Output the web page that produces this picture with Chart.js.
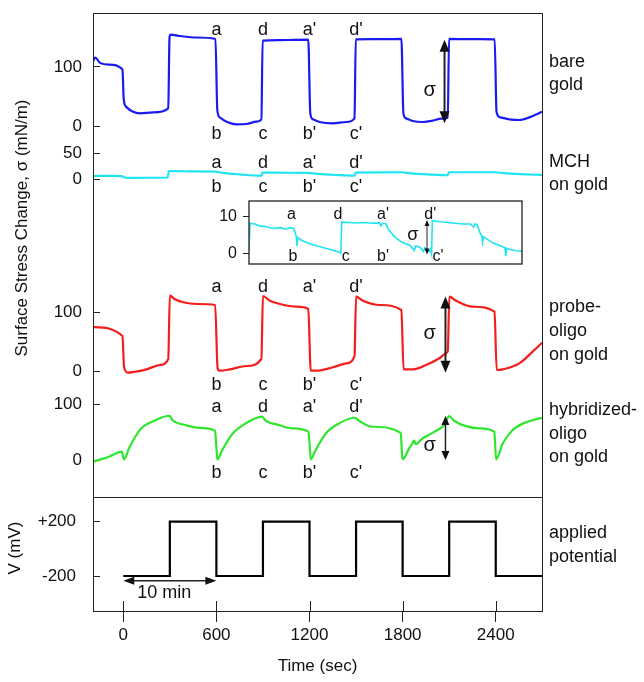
<!DOCTYPE html>
<html>
<head>
<meta charset="utf-8">
<script src="https://cdn.jsdelivr.net/npm/chart.js@4.4.1/dist/chart.umd.min.js"></script>
<style>
  html, body { margin: 0; padding: 0; background: #fff; }
  #wrap { position: relative; width: 644px; height: 682px; }
  #main { position: absolute; left: 0; top: 0; }
  #inset { position: absolute; left: 210px; top: 195px; }
</style>
</head>
<body>
<div id="wrap">
  <canvas id="main" width="644" height="682"></canvas>
  <canvas id="inset" width="320" height="75"></canvas>
</div>
<script>
// Surface stress traces vs time, with the applied potential underneath

const timeTicks = [0, 600, 1200, 1800, 2400];
const bareTicks = [0, 100];
const mchTicks = [0, 50];
const probeTicks = [0, 100];
const hybTicks = [0, 100];
const potTicks = [-200, 200];
const insetTicks = [0, 10];

// bare gold (blue)
const bareT = [-195, -180, -150, -90, -5, 3, 21, 64, 107, 193, 290, 298, 305, 365, 472, 594,
  606, 622, 665, 730, 794, 858, 890, 898, 1000, 1100, 1192, 1205, 1222, 1265, 1351, 1437, 1490,
  1498, 1600, 1700, 1792, 1805, 1822, 1865, 1930, 1994, 2048, 2091, 2099, 2200, 2300, 2393,
  2405, 2428, 2488, 2552, 2617, 2698];
const bareS = [110, 116, 107, 104, 96, 45, 32, 24, 21.5, 23, 30, 150, 155, 152.5, 150, 147.5,
  27, 14.7, 7.3, 2.9, 3.4, 7.3, 11.3, 144.6, 145.5, 146, 146.3, 21.5, 11.3, 6.8, 4.5, 6.8, 13,
  146.9, 147.2, 147.3, 147.5, 21.5, 13, 8.5, 6.8, 9, 12.4, 14, 147.5, 147.3, 147.1, 146.9,
  24, 14.7, 11.3, 10.2, 14.7, 24];

// MCH on gold (cyan)
const mchT = [-195, -100, -10, 10, 30, 150, 285, 295, 450, 595, 640, 750, 890, 898, 1050, 1195,
  1250, 1380, 1490, 1498, 1650, 1795, 1850, 2000, 2090, 2098, 2250, 2395, 2450, 2600, 2698];
const mchS = [6.4, 6.5, 6.2, 3.5, 2.8, 3, 3.5, 15.6, 15.4, 14.8, 12.5, 9.5, 7, 12.8, 12.6, 12.3,
  10.5, 8.2, 7, 12.8, 13.2, 13.6, 11.5, 9, 7.8, 13.6, 13.6, 13.6, 11.8, 9.5, 8.4];

// probe-oligo on gold (red)
const probeT = [-195, -5, 5, 30, 64, 150, 236, 290, 300, 333, 386, 472, 592, 608, 622, 687, 794,
  890, 900, 944, 1009, 1116, 1192, 1208, 1244, 1351, 1437, 1490, 1500, 1544, 1652, 1792, 1806,
  1865, 1951, 2037, 2080, 2091, 2101, 2144, 2251, 2392, 2406, 2445, 2552, 2638, 2698];
const probeS = [75, 60, 8, -1.5, -0.5, 4, 11.3, 21.4, 128, 122, 117, 114, 112.3, 5.7, 1.7, 4, 9.6,
  21.4, 127.4, 119.5, 114, 109.4, 105.6, 1.7, 1.7, 7.4, 14, 26.4, 126.3, 119.5, 112.3, 103.9, 4,
  4, 11.3, 22.6, 31, 34.8, 126.3, 119.5, 109.4, 101, 2.9, 4, 14, 33.8, 48.8];

// hybridized-oligo on gold (green)
const hybT = [-195, -92, -10, 5, 37, 80, 123, 187, 299, 316, 402, 488, 591, 600, 606, 638, 703,
  789, 896, 918, 1004, 1090, 1193, 1202, 1208, 1240, 1305, 1391, 1494, 1519, 1605, 1788, 1794,
  1799, 1842, 1863, 1874, 1885, 1928, 1992, 2068, 2100, 2132, 2208, 2294, 2391, 2402, 2445,
  2509, 2595, 2698];
const hybS = [-2.5, 6.4, 15.4, 1.8, 21.4, 43.4, 59, 69, 79.6, 72, 63, 58, 53, 24, 1.8, 18.4, 47,
  66, 77.9, 70.7, 63, 57, 51, 24, 1.8, 18.4, 48, 66, 76, 70.7, 60, 49, 21.4,
  1.8, 21.4, 30, 35, 29, 39, 49, 63, 79, 70.7, 61, 57, 51, 1.8, 30,
  54, 68, 76];

// applied potential (mV)
const potT = [0, 300, 300, 600, 600, 900, 900, 1200, 1200, 1500, 1500, 1800, 1800, 2100, 2100, 2400, 2400, 2700];
const potV = [-200, -200, 200, 200, -200, -200, 200, 200, -200, -200, 200, 200, -200, -200, 200, 200, -200, -200];

// inset: MCH on gold, magnified
const insetT = [290, 298, 330, 360, 400, 430, 460, 500, 530, 560, 585, 595, 603, 607, 612, 640,
  700, 760, 800, 850, 890, 896, 902, 950, 1000, 1060, 1100, 1150, 1160, 1170, 1195, 1210, 1250,
  1300, 1350, 1380, 1390, 1420, 1440, 1450, 1480, 1488, 1494, 1499, 1550, 1600, 1650, 1700,
  1750, 1770, 1780, 1795, 1810, 1825, 1830, 1836, 1900, 1950, 1978, 1983, 1988, 2000, 2050, 2090];
const insetS = [0.5, 8.2, 8.0, 7.5, 7.3, 7.0, 6.8, 7.0, 6.6, 7.0, 6.8, 5.8, 4.5, 2.0, 4.3, 3.5,
  2.5, 1.8, 1.3, 0.8, 0.2, 0, 8.5, 8.4, 8.3, 8.4, 8.2, 8.3, 7.5, 8.2, 8.0, 6.5, 4.5,
  3.0, 2.2, 0.8, 2.0, 1.6, 0.5, 1.5, 0.5, 1.2, 0, 8.9, 8.6, 8.4, 8.2, 8.0,
  8.0, 7.2, 8.0, 7.8, 5.9, 4.8, 3.0, 4.5, 2.8, 2.0, 1.5, -0.8, 1.3, 1.2, 0.7, 0.6];

const letterTimes = [600, 900, 1200, 1500];
const upperLetters = ["a", "d", "a'", "d'"];
const lowerLetters = ["b", "c", "b'", "c'"];

const SANS = "'Liberation Sans', Arial, sans-serif";
const INK = "#111";
const FRAME = "#222";

Chart.defaults.font.family = SANS;
Chart.defaults.font.size = 17;
Chart.defaults.color = INK;

const mk = (ts, vs) => ts.map((t, i) => ({ x: t, y: vs[i] }));

function noPad(s) {
  s.paddingTop = 0;
  s.paddingBottom = 0;
  s.paddingLeft = 0;
  s.paddingRight = 0;
}

function yAxis(ticks, min, max, weight, pad, fmt) {
  return {
    type: "linear",
    position: "left",
    stack: "panels",
    stackWeight: weight,
    min: min,
    max: max,
    afterBuildTicks: (s) => { s.ticks = ticks.map((v) => ({ value: v })); },
    afterFit: (s) => { s.width = 93; noPad(s); },
    grid: { drawOnChartArea: false, tickLength: -7, color: FRAME, lineWidth: 1 },
    border: { display: false },
    ticks: { padding: pad, autoSkip: false, callback: fmt || ((v) => String(v)) }
  };
}

function line(ctx, x1, y1, x2, y2) {
  ctx.beginPath();
  ctx.moveTo(x1, y1);
  ctx.lineTo(x2, y2);
  ctx.stroke();
}

function head(ctx, x, y, dx, dy, len, half) {
  // tip at (x, y), pointing along (dx, dy)
  ctx.beginPath();
  ctx.moveTo(x, y);
  ctx.lineTo(x - dx * len - dy * half, y - dy * len + dx * half);
  ctx.lineTo(x - dx * len + dy * half, y - dy * len - dx * half);
  ctx.closePath();
  ctx.fill();
}

function vArrow(ctx, x, yTop, yBot, w, len, half) {
  ctx.lineWidth = w;
  line(ctx, x, yTop + len * 0.6, x, yBot - len * 0.6);
  head(ctx, x, yTop, 0, -1, len, half);
  head(ctx, x, yBot, 0, 1, len, half);
}

// annotation placement, in each axis' own units
const letterRows = [
  { axis: "yBare", top: 163, bottom: -13 },
  { axis: "yMch", top: 31, bottom: -14 },
  { axis: "yProbe", top: 143, bottom: -22 },
  { axis: "yHyb", top: 95, bottom: -22 }
];
const sigmaMarks = [
  { axis: "yBare", t: 2070, from: 146, to: 4.6, labelT: 1975, labelV: 61, w: 2, len: 12, half: 5 },
  { axis: "yProbe", t: 2076, from: 126.5, to: -1.7, labelT: 1975, labelV: 64.6, w: 2, len: 12, half: 5 },
  { axis: "yHyb", t: 2076, from: 79, to: 0.5, labelT: 1975, labelV: 27, w: 1.5, len: 9, half: 4 }
];
const sideLabels = [
  { axis: "yBare", v: 109, lines: ["bare", "gold"] },
  { axis: "yMch", v: 34, lines: ["MCH", "on gold"] },
  { axis: "yProbe", v: 109, lines: ["probe-", "oligo", "on gold"] },
  { axis: "yHyb", v: 90, lines: ["hybridized-", "oligo", "on gold"] },
  { axis: "yPot", v: 114, lines: ["applied", "potential"] }
];

const mainDecor = {
  id: "mainDecor",
  afterDraw(chart) {
    const { ctx, chartArea: a, scales: s } = chart;
    ctx.save();
    ctx.strokeStyle = FRAME;
    ctx.fillStyle = INK;
    ctx.lineWidth = 1;
    ctx.strokeRect(Math.round(a.left) + 0.5, Math.round(a.top) + 0.5, Math.round(a.width), Math.round(a.height));
    const yd = Math.round(s.yPot.top) + 0.5;
    line(ctx, a.left, yd, a.right, yd);
    timeTicks.forEach((v) => {
      const x = Math.round(s.x.getPixelForValue(v)) + 0.5;
      line(ctx, x, a.bottom, x, a.bottom - 10);
    });

    ctx.font = "18px " + SANS;
    ctx.textAlign = "center";
    ctx.textBaseline = "middle";
    letterRows.forEach((r) => {
      letterTimes.forEach((t, i) => {
        const x = s.x.getPixelForValue(t);
        ctx.fillText(upperLetters[i], x, s[r.axis].getPixelForValue(r.top));
        ctx.fillText(lowerLetters[i], x, s[r.axis].getPixelForValue(r.bottom));
      });
    });

    sigmaMarks.forEach((m) => {
      const x = s.x.getPixelForValue(m.t);
      vArrow(ctx, x, s[m.axis].getPixelForValue(m.from), s[m.axis].getPixelForValue(m.to), m.w, m.len, m.half);
      ctx.font = "20px " + SANS;
      ctx.fillText("σ", s.x.getPixelForValue(m.labelT), s[m.axis].getPixelForValue(m.labelV));
    });

    // 10 min scale bar
    const yb = s.yPot.getPixelForValue(-235);
    const x0 = s.x.getPixelForValue(0), x1 = s.x.getPixelForValue(600);
    ctx.lineWidth = 1.5;
    line(ctx, x0 + 6, yb, x1 - 6, yb);
    head(ctx, x0, yb, -1, 0, 11, 4);
    head(ctx, x1, yb, 1, 0, 11, 4);
    ctx.font = "18px " + SANS;
    ctx.fillText("10 min", s.x.getPixelForValue(264), s.yPot.getPixelForValue(-325));

    ctx.textAlign = "left";
    ctx.font = "18px " + SANS;
    sideLabels.forEach((l) => {
      const y0 = s[l.axis].getPixelForValue(l.v);
      l.lines.forEach((txt, i) => ctx.fillText(txt, a.right + 7, y0 + i * 23.8));
    });

    ctx.textAlign = "center";
    ctx.font = "17px " + SANS;
    ctx.save();
    ctx.translate(22, 228);
    ctx.rotate(-Math.PI / 2);
    ctx.fillText("Surface Stress Change, σ (mN/m)", 0, 0);
    ctx.restore();
    ctx.save();
    ctx.translate(15, 548);
    ctx.rotate(-Math.PI / 2);
    ctx.fillText("V (mV)", 0, 0);
    ctx.restore();
    ctx.restore();
  }
};

const traceStyle = { pointRadius: 0, borderWidth: 2.2, fill: false, cubicInterpolationMode: "monotone" };

new Chart(document.getElementById("main"), {
  type: "line",
  data: {
    datasets: [
      Object.assign({ data: mk(bareT, bareS), yAxisID: "yBare", borderColor: "#1a1af2" }, traceStyle),
      Object.assign({ data: mk(mchT, mchS), yAxisID: "yMch", borderColor: "#1fe4f2" }, traceStyle),
      Object.assign({ data: mk(probeT, probeS), yAxisID: "yProbe", borderColor: "#f51c1c" }, traceStyle),
      Object.assign({ data: mk(hybT, hybS), yAxisID: "yHyb", borderColor: "#2ee62e" }, traceStyle),
      { data: mk(potT, potV), yAxisID: "yPot", borderColor: "#000", borderWidth: 2.2, pointRadius: 0, tension: 0 }
    ]
  },
  options: {
    responsive: false,
    animation: false,
    events: [],
    layout: { padding: { top: 13, right: 102, bottom: 0, left: 0 } },
    plugins: { legend: { display: false }, tooltip: { enabled: false } },
    scales: {
      x: {
        type: "linear",
        min: -195,
        max: 2698,
        afterBuildTicks: (s) => { s.ticks = timeTicks.map((v) => ({ value: v })); },
        afterFit: (s) => { s.height = 71; noPad(s); },
        grid: { drawOnChartArea: false, tickLength: 11, color: FRAME, lineWidth: 1 },
        border: { display: false },
        ticks: { padding: 3, maxRotation: 0, autoSkip: false, font: { size: 17 }, callback: (v) => String(v) },
        title: { display: true, text: "Time (sec)", font: { size: 17 }, padding: { top: 0, bottom: 5 } }
      },
      // listed bottom panel first: left-stacked axes are laid out in reverse order
      yPot: yAxis(potTicks, -457.8, 382, 114, 24, (v) => (v > 0 ? "+" + v : String(v))),
      yHyb: yAxis(hybTicks, -65.5, 136.3, 113, 18),
      yProbe: yAxis(probeTicks, -20.7, 171.2, 114, 18),
      yMch: yAxis(mchTicks, -174.4, 75.6, 130, 18),
      yBare: yAxis(bareTicks, -23.7, 191.5, 127, 18)
    }
  },
  plugins: [mainDecor]
});

// inset annotations
const insetLetters = {
  upperT: [570, 877, 1174, 1486], lowerT: [581, 928, 1174, 1536], upperV: 10.7, lowerV: -0.9
};

const insetDecor = {
  id: "insetDecor",
  afterDraw(chart) {
    const { ctx, chartArea: a, scales: s } = chart;
    ctx.save();
    ctx.strokeStyle = FRAME;
    ctx.fillStyle = INK;
    ctx.lineWidth = 1.3;
    ctx.strokeRect(a.left, a.top, a.width, a.height);
    ctx.font = "16px " + SANS;
    ctx.textAlign = "center";
    ctx.textBaseline = "middle";
    insetLetters.upperT.forEach((t, i) => {
      ctx.fillText(upperLetters[i], s.x.getPixelForValue(t), s.y.getPixelForValue(insetLetters.upperV));
    });
    insetLetters.lowerT.forEach((t, i) => {
      ctx.fillText(lowerLetters[i], s.x.getPixelForValue(t), s.y.getPixelForValue(insetLetters.lowerV));
    });
    vArrow(ctx, s.x.getPixelForValue(1464), s.y.getPixelForValue(9.1), s.y.getPixelForValue(-0.3), 1, 6, 2.5);
    ctx.font = "18px " + SANS;
    ctx.fillText("σ", s.x.getPixelForValue(1371), s.y.getPixelForValue(5));
    ctx.restore();
  }
};

new Chart(document.getElementById("inset"), {
  type: "line",
  data: {
    datasets: [{ data: mk(insetT, insetS), borderColor: "#1fe4f2", borderWidth: 1.6, pointRadius: 0, tension: 0 }]
  },
  options: {
    responsive: false,
    animation: false,
    events: [],
    layout: { padding: { top: 6, right: 8, bottom: 6, left: 0 } },
    plugins: { legend: { display: false }, tooltip: { enabled: false } },
    scales: {
      x: { type: "linear", display: false, min: 291, max: 2090 },
      y: {
        min: -2.92,
        max: 14.29,
        afterBuildTicks: (s) => { s.ticks = insetTicks.map((v) => ({ value: v })); },
        afterFit: (s) => { s.width = 39; noPad(s); },
        grid: { drawOnChartArea: false, tickLength: 6, color: FRAME },
        border: { display: false },
        ticks: { padding: 6, font: { size: 16 }, callback: (v) => String(v) }
      }
    }
  },
  plugins: [insetDecor]
});
</script>
</body>
</html>
